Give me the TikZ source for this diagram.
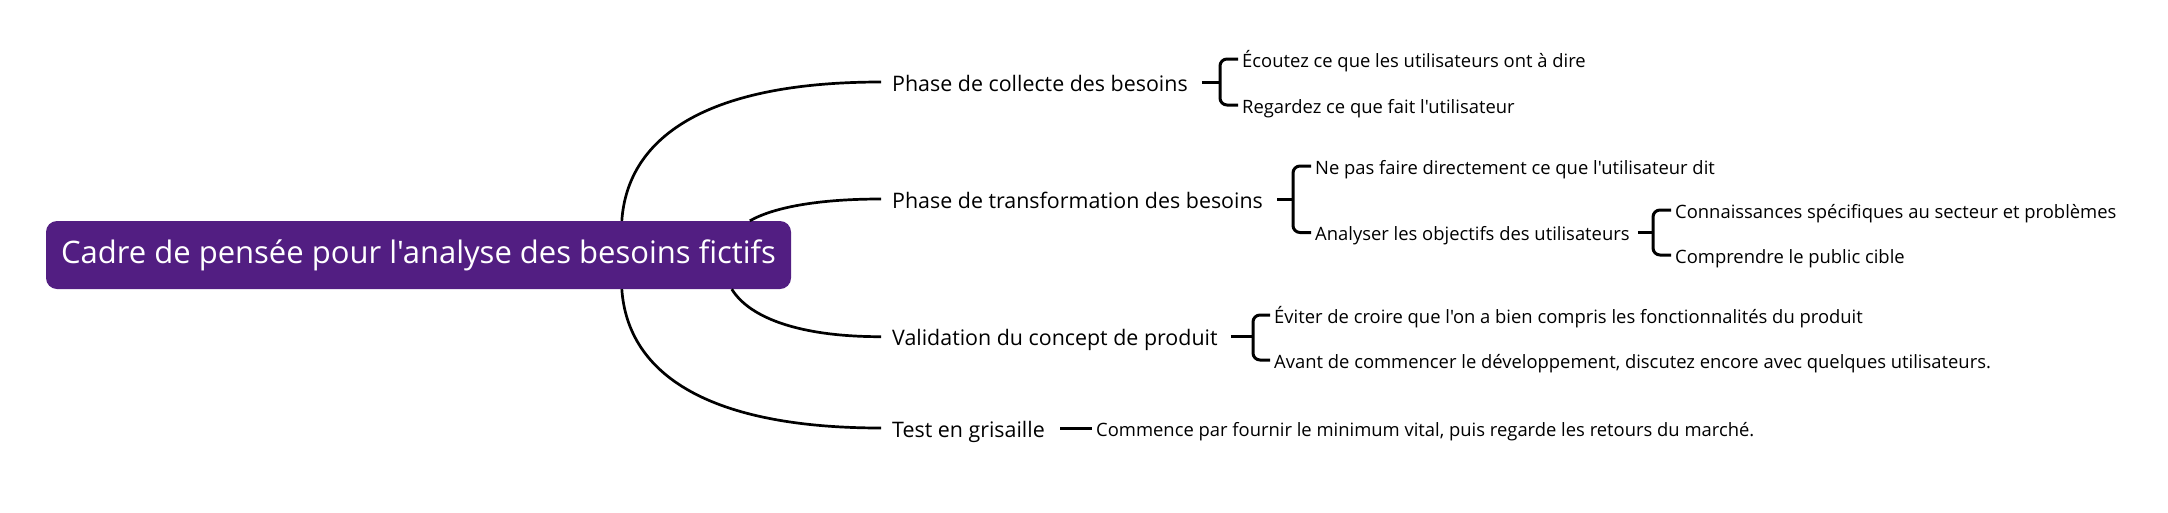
\documentclass[tikz,border=0pt]{standalone}
\usepackage{fontspec}
\setmainfont{Open Sans}[Ligatures=TeXOff]
\definecolor{rootpurple}{RGB}{82,30,130}
\begin{document}
\begin{tikzpicture}[x=1pt,y=-1pt,
  conn/.style={line width=2.7pt},
  br/.style={line width=3pt, rounded corners=7pt},
  stub/.style={line width=3pt},
  rootbox/.style={fill=rootpurple, rounded corners=11pt, minimum width=745pt, minimum height=68pt, inner sep=0pt, text=white, font=\fontsize{31}{36}\selectfont},
  lone/.style={anchor=base west, inner sep=0pt, font=\fontsize{21.4}{26}\selectfont},
  ltwo/.style={anchor=base west, inner sep=0pt, font=\fontsize{18.4}{22}\selectfont}]
\useasboundingbox (0,0) rectangle (2168,512);
\node[rootbox] (root) at (418.5,255) {Cadre de pensée pour l'analyse des besoins fictifs};
% level 1
\node[lone] (c1) at (892,91) {Phase de collecte des besoins};
\node[lone] (c2) at (892,208) {Phase de transformation des besoins};
\node[lone] (c3) at (892,345.7) {Validation du concept de produit};
\node[lone] (c4) at (892,437) {Test en grisaille};
% level 2
\node[ltwo] (e1) at (1242,67) {Écoutez ce que les utilisateurs ont à dire};
\node[ltwo] (e2) at (1242,113) {Regardez ce que fait l'utilisateur};
\node[ltwo] (t1) at (1315,174) {Ne pas faire directement ce que l'utilisateur dit};
\node[ltwo] (t2) at (1315,240.5) {Analyser les objectifs des utilisateurs};
\node[ltwo] (a1) at (1675,218) {Connaissances spécifiques au secteur et problèmes};
\node[ltwo] (a2) at (1675,263) {Comprendre le public cible};
\node[ltwo] (v1) at (1274,323) {Éviter de croire que l'on a bien compris les fonctionnalités du produit};
\node[ltwo] (v2) at (1274,368) {Avant de commencer le développement, discutez encore avec quelques utilisateurs.};
\node[ltwo] (g1) at (1096,436) {Commence par fournir le minimum vital, puis regarde les retours du marché.};
% bracket joints
\coordinate (b1) at (1220,82);
\coordinate (b2) at (1293,199);
\coordinate (b3) at (1653,232.5);
\coordinate (b4) at (1253,336.7);
% curves from root
\draw[conn] ([xshift=576pt]root.north west) .. controls +(6,-86) and +(-171,0) .. ([shift={(-11,-9)}]c1.base west);
\draw[conn] ([xshift=704pt]root.north west) .. controls +(25,-14) and +(-61,0) .. ([shift={(-11,-9)}]c2.base west);
\draw[conn] ([xshift=686pt]root.south west) .. controls +(18,29) and +(-81,0) .. ([shift={(-11,-9)}]c3.base west);
\draw[conn] ([xshift=576pt]root.south west) .. controls +(6,86) and +(-171,0) .. ([shift={(-11,-9)}]c4.base west);
% stubs
\draw[stub] ([shift={(14,-9)}]c1.base east) -- (b1);
\draw[stub] ([shift={(14,-9)}]c2.base east) -- (b2);
\draw[stub] ([shift={(8,-8)}]t2.base east) -- (b3);
\draw[stub] ([shift={(13,-9)}]c3.base east) -- (b4);
\draw[stub] ([shift={(15,-9)}]c4.base east) -- ([shift={(-4,-8)}]g1.base west);
% brackets
\draw[br] ([shift={(-4,-8)}]e1.base west) -| (b1) |- ([shift={(-4,-8)}]e2.base west);
\draw[br] ([shift={(-4,-8)}]t1.base west) -| (b2) |- ([shift={(-4,-8)}]t2.base west);
\draw[br] ([shift={(-4,-8)}]a1.base west) -| (b3) |- ([shift={(-4,-8)}]a2.base west);
\draw[br] ([shift={(-4,-8)}]v1.base west) -| (b4) |- ([shift={(-4,-8)}]v2.base west);
\end{tikzpicture}
\end{document}
